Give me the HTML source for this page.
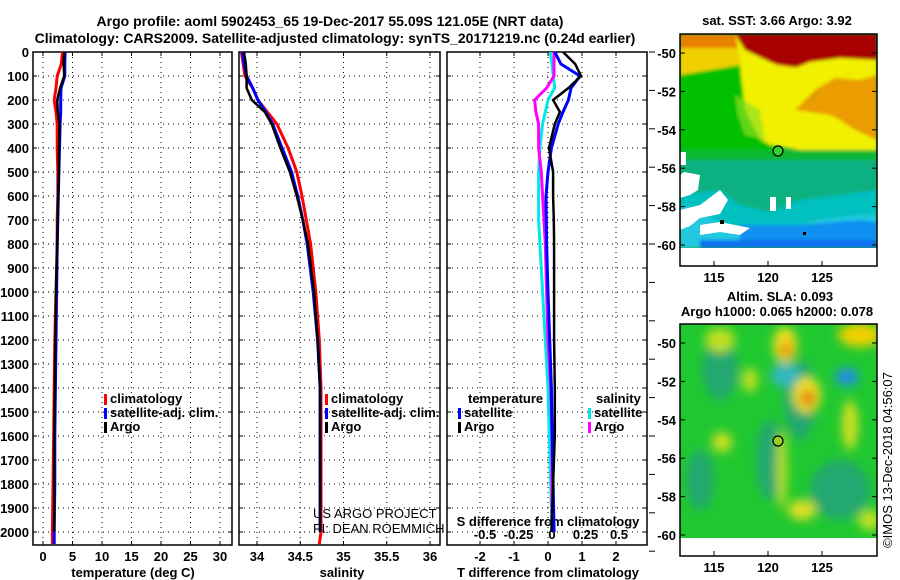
<!DOCTYPE html>
<html><head><meta charset="utf-8">
<style>
html,body{margin:0;padding:0;background:#fff;}
svg{display:block;font-family:"Liberation Sans",sans-serif;}
.t{font-weight:bold;font-size:13px;}
.tb{font-weight:bold;font-size:14px;}
.grid{stroke:#000;stroke-width:1;stroke-dasharray:1,4;}
</style></head>
<body>
<svg id="fig" width="900" height="580" viewBox="0 0 900 580">
<defs>
<filter id="blur4" x="-10%" y="-10%" width="120%" height="120%"><feGaussianBlur stdDeviation="5"/></filter>
<filter id="blur2"><feGaussianBlur stdDeviation="1.5"/></filter>
<clipPath id="clipTop"><rect x="680" y="34" width="197" height="214"/></clipPath>
<clipPath id="clipBot"><rect x="680" y="324" width="197" height="214"/></clipPath>
</defs>
<text class="tb" x="330" y="26" text-anchor="middle">Argo profile: aoml 5902453_65 19-Dec-2017 55.09S 121.05E (NRT data)</text>
<text class="tb" x="335" y="43" text-anchor="middle">Climatology: CARS2009. Satellite-adjusted climatology: synTS_20171219.nc (0.24d earlier)</text>
<g id="panels"></g>

<!-- top map -->
<g>
<text class="t" x="777" y="25" text-anchor="middle">sat. SST: 3.66 Argo: 3.92</text>
<g clip-path="url(#clipTop)">
<rect x="680" y="34" width="197" height="214" fill="#10b830"/>
<g filter="url(#blur2)">
<rect x="680" y="34" width="197" height="50" fill="#f0d000"/>
<rect x="680" y="34" width="197" height="14" fill="#e88000"/>
<polygon points="735,34 877,34 877,70 850,72 830,80 810,100 795,110 790,75 760,72 740,60" fill="#f0f000"/>
<polygon points="735,34 877,34 877,60 840,58 810,62 790,70 770,62 745,50" fill="#a80000"/>
<polygon points="740,60 800,68 812,100 830,78 860,70 877,68 877,160 840,160 800,150 770,145 745,130 738,100" fill="#f0f000"/>
<polygon points="795,110 815,90 835,78 860,80 877,75 877,140 855,130 840,120 830,115" fill="#e88000" opacity="0.75"/>
<polygon points="680,75 740,65 745,110 760,140 780,150 680,150" fill="#00c000"/>
<polygon points="735,95 760,110 765,140 745,135 738,115" fill="#90e020" opacity="0.7"/>
<rect x="680" y="150" width="197" height="45" fill="#10b830"/>
<polygon points="680,160 877,160 877,248 680,248" fill="#10b080"/>
<polygon points="680,195 720,190 740,205 770,212 800,200 840,195 877,190 877,248 680,248" fill="#00c0c0"/>
<polygon points="680,205 700,210 720,225 740,228 780,230 820,220 860,215 877,215 877,248 680,248" fill="#20c8e0"/>
<polygon points="740,225 800,225 860,220 877,222 877,248 740,248" fill="#1090f0"/>
<polygon points="700,240 877,240 877,248 700,248" fill="#1070f0"/>
</g>
<polygon points="680,152 686,152 686,165 680,165" fill="#fff"/>
<polygon points="684,172 700,175 698,190 690,195 680,198 680,175" fill="#fff"/>
<polygon points="680,210 700,205 720,190 728,200 720,214 700,218 690,226 680,230" fill="#fff"/>
<polygon points="700,225 720,222 750,228 740,235 720,232 700,235" fill="#fff"/>
<rect x="770" y="197" width="6" height="14" fill="#fff"/><rect x="786" y="197" width="5" height="12" fill="#fff"/>
<rect x="680" y="248" width="197" height="20" fill="#fff"/>
<rect x="720" y="220" width="4" height="4" fill="#000"/><rect x="803" y="232" width="3" height="3" fill="#000"/>
</g>
<rect x="680" y="34" width="197" height="232" fill="none" stroke="#000" stroke-width="1.5"/>
<circle cx="778" cy="151" r="5" fill="#30d030" stroke="#000" stroke-width="1.2"/>
<g id="topLat"></g>
</g>

<!-- bottom map -->
<g>
<text class="t" x="780" y="301" text-anchor="middle">Altim. SLA: 0.093</text>
<text class="t" x="777" y="316" text-anchor="middle">Argo h1000: 0.065 h2000: 0.078</text>
<g clip-path="url(#clipBot)">
<rect x="680" y="324" width="197" height="214" fill="#20c830"/>
<g filter="url(#blur4)">
<ellipse cx="720" cy="370" rx="18" ry="30" fill="#20a870"/>
<ellipse cx="800" cy="400" rx="16" ry="40" fill="#20a870"/>
<ellipse cx="770" cy="460" rx="14" ry="40" fill="#20a870"/>
<ellipse cx="840" cy="490" rx="30" ry="30" fill="#20a870"/>
<ellipse cx="700" cy="480" rx="14" ry="30" fill="#20a870"/>
<ellipse cx="785" cy="375" rx="14" ry="12" fill="#30b8c0"/>
<ellipse cx="847" cy="377" rx="12" ry="9" fill="#2090e0"/>
<ellipse cx="785" cy="345" rx="12" ry="18" fill="#f0e020"/>
<ellipse cx="786" cy="350" rx="6" ry="9" fill="#e89010"/>
<ellipse cx="807" cy="395" rx="14" ry="18" fill="#f0e020"/>
<ellipse cx="808" cy="398" rx="7" ry="8" fill="#e07010"/>
<ellipse cx="860" cy="335" rx="22" ry="12" fill="#f0d000"/>
<ellipse cx="720" cy="340" rx="15" ry="12" fill="#c0e020"/>
<ellipse cx="750" cy="380" rx="8" ry="12" fill="#c0e020"/>
<ellipse cx="722" cy="442" rx="10" ry="10" fill="#d0e020"/>
<ellipse cx="782" cy="470" rx="5" ry="40" fill="#c0e020"/>
<ellipse cx="802" cy="510" rx="14" ry="10" fill="#e0e020"/>
<ellipse cx="850" cy="425" rx="8" ry="25" fill="#d0e020"/>
<ellipse cx="870" cy="520" rx="12" ry="10" fill="#c0e020"/>
</g>
<rect x="680" y="538" width="197" height="20" fill="#fff"/>
</g>
<rect x="680" y="324" width="197" height="232" fill="none" stroke="#000" stroke-width="1.5"/>
<circle cx="778" cy="441" r="5" fill="#90d020" stroke="#000" stroke-width="1.2"/>
<g id="botLat"></g>
<text x="892" y="460" font-size="13" text-anchor="middle" transform="rotate(-90 892 460)">©IMOS 13-Dec-2018 04:56:07</text>
</g>
</svg>
<script>
// ---- data ----
const depths = [0,50,100,150,200,250,300,400,500,600,700,800,1000,1200,1400,1600,1800,2000,2050];
const tempClim = [3.3,3.1,2.4,2.2,1.9,2.2,2.4,2.4,2.5,2.5,2.4,2.4,2.2,2.0,1.9,1.8,1.7,1.6,1.6];
const tempSat = [3.75,3.7,3.7,3.05,3.0,3.0,2.9,2.8,2.7,2.6,2.5,2.4,2.3,2.2,2.1,2.0,2.0,1.9,1.9];
const tempArgo = [3.6,3.5,3.6,2.9,2.4,2.5,2.8,2.7,2.7,2.6,2.5,2.4,2.2,2.1,2.0,1.9,1.9,1.9];
const salClim = [33.82,33.84,33.86,33.95,34.01,34.12,34.23,34.36,34.46,34.52,34.57,34.62,34.68,34.72,34.74,34.74,34.74,34.74,34.72];
const salSat = [33.83,33.85,33.88,33.95,34.01,34.1,34.18,34.29,34.40,34.47,34.53,34.58,34.65,34.70,34.73,34.73,34.73,34.73];
const salArgo = [33.85,33.87,33.88,33.88,33.94,34.09,34.17,34.27,34.38,34.46,34.53,34.59,34.66,34.7,34.73,34.73,34.73,34.73];
const tDiffSat = [0.2,0.38,0.94,0.68,0.6,0.44,0.3,0.1,0.0,-0.06,-0.05,-0.04,0.0,0.05,0.1,0.12,0.15,0.18];
const tDiffArgo = [0.44,0.8,0.97,0.6,0.15,0.35,0.2,0.03,0.15,0.15,0.17,0.18,0.18,0.18,0.2,0.2,0.15,0.1];
const sDiffSat = [-0.015,0.0,0.01,0.02,-0.03,-0.05,-0.07,-0.09,-0.1,-0.1,-0.1,-0.09,-0.07,-0.05,-0.03,-0.02,-0.01,0.0];
const sDiffArgo = [0.015,0.015,0.015,-0.04,-0.13,-0.12,-0.1,-0.1,-0.08,-0.07,-0.06,-0.05,-0.04,-0.03,-0.01,0.0,0.0,0.0];
const depthTicks = [0,100,200,300,400,500,600,700,800,900,1000,1100,1200,1300,1400,1500,1600,1700,1800,1900,2000];
const tempTicks = [0,5,10,15,20,25,30];
const salTicks = [34,34.5,35,35.5,36];
const salTickLabels = ["34","34.5","35","35.5","36"];
const tdTicks = [-2,-1,0,1,2];
const sdTicks = [-0.5,-0.25,0,0.25,0.5];
const sdTickLabels = ["-0.5","-0.25","0","0.25","0.5"];
const latTicks = [-50,-52,-54,-56,-58,-60];
const lonTicks = [115,120,125];

const NS='http://www.w3.org/2000/svg';
const svg=document.getElementById('fig');
const panels=document.getElementById('panels');
function mk(tag,attrs,parent){const e=document.createElementNS(NS,tag);for(const k in attrs)e.setAttribute(k,attrs[k]);(parent||panels).appendChild(e);return e;}
const yD=d=>52+0.24*d;
const PT={x0:33,x1:232}, PS={x0:239,x1:440}, PD={x0:447,x1:647};
const yTop=52, yBot=545;
const xT=t=>43+5.9*t;
const xS=s=>257+86.5*(s-34);
const xTD=v=>548+34*v;
const xSD=v=>552+134*v;

function frame(p,name){
  const r=mk('rect',{x:p.x0,y:yTop,width:p.x1-p.x0,height:yBot-yTop,fill:'none',stroke:'#000','stroke-width':1.5});
  
  
  depthTicks.forEach(d=>{
    const g=mk('line',{x1:p.x0,x2:p.x1,y1:yD(d),y2:yD(d),class:'grid'});
    
    
    mk('line',{x1:p.x0,x2:p.x0+4,y1:yD(d),y2:yD(d),stroke:'#000'});
    mk('line',{x1:p.x1-4,x2:p.x1,y1:yD(d),y2:yD(d),stroke:'#000'});
  });
}
function xticks(p,ticks,labels,fx,name,ty){
  ticks.forEach((v,i)=>{
    const x=fx(v);
    const g=mk('line',{x1:x,x2:x,y1:yTop,y2:yBot,class:'grid'});
    
    
    mk('line',{x1:x,x2:x,y1:yBot-4,y2:yBot,stroke:'#000'});
    mk('line',{x1:x,x2:x,y1:yTop,y2:yTop+4,stroke:'#000'});
    const t=mk('text',{x:x,y:ty,'text-anchor':'middle',class:'t'});
    t.textContent=labels[i];
    
    
  });
}
function line(xs,vals,fx,color,name,w){
  const pts=vals.map((v,i)=>fx(v).toFixed(1)+','+yD(depths[i]).toFixed(1)).join(' ');
  const l=mk('polyline',{points:pts,fill:'none',stroke:color,'stroke-width':w||3,'stroke-linejoin':'miter'});
  
  
}
function label(x,y,txt,name,anchor,cls,size){
  const t=mk('text',{x:x,y:y,'text-anchor':anchor||'start'});
  if(cls)t.setAttribute('class',cls);
  if(size)t.setAttribute('font-size',size);
  t.textContent=txt;
  
  
  return t;
}
function legendEntry(x,y,color,txt,name){
  const r=mk('rect',{x:x,y:y-9,width:3,height:11,fill:color});
  
  
  label(x+6,y,txt,name,'start','t');
}

// Panel 1: temperature
frame(PT,'temperature-panel');
xticks(PT,tempTicks,tempTicks.map(String),xT,'temperature-x',561);
depthTicks.forEach(d=>label(29,yD(d)+5,String(d),'depth-tick-label','end','t'));
line(depths,tempClim,xT,'#f00','temperature-climatology-line');
line(depths,tempSat,xT,'#00f','temperature-satellite-line');
line(depths,tempArgo,xT,'#000','temperature-argo-line',2.5);
label(133,577,'temperature (deg C)','temperature-x-axis-title','middle','t');
legendEntry(104,403,'#f00','climatology','legend-climatology');
legendEntry(104,417,'#00f','satellite-adj. clim.','legend-satellite-adj');
legendEntry(104,431,'#000','Argo','legend-argo');

// Panel 2: salinity
frame(PS,'salinity-panel');
xticks(PS,salTicks,salTickLabels,xS,'salinity-x',561);
line(depths,salClim,xS,'#f00','salinity-climatology-line');
line(depths,salSat,xS,'#00f','salinity-satellite-line');
line(depths,salArgo,xS,'#000','salinity-argo-line',2.5);
label(342,577,'salinity','salinity-x-axis-title','middle','t');
legendEntry(325,403,'#f00','climatology','legend-sal-climatology');
legendEntry(325,417,'#00f','satellite-adj. clim.','legend-sal-satellite-adj');
legendEntry(325,431,'#000','Argo','legend-sal-argo');
label(313,518,'US ARGO PROJECT','us-argo-credit','start',null,13);
label(313,533,'PI: DEAN ROEMMICH','pi-credit','start',null,13);

// Panel 3: differences
frame(PD,'difference-panel');
xticks(PD,tdTicks,tdTicks.map(String),xTD,'t-diff-x',561);
[0,1,2,3,4,5,6,7,8,9,10,11,12,13].forEach(i=>mk('line',{x1:PD.x1+2,x2:PD.x1+8,y1:52+38.4*i,y2:52+38.4*i,stroke:'#000'}));
sdTicks.forEach((v,i)=>label(xSD(v),539,sdTickLabels[i],'s-diff-tick-label','middle','t'));
label(548,526,'S difference from climatology','s-diff-axis-title','middle','t');
line(depths,sDiffSat,xSD,'#00e8e8','s-diff-satellite-line');
line(depths,sDiffArgo,xSD,'#f0f','s-diff-argo-line');
line(depths,tDiffSat,xTD,'#00f','t-diff-satellite-line');
line(depths,tDiffArgo,xTD,'#000','t-diff-argo-line',2.5);
label(548,577,'T difference from climatology','t-diff-x-axis-title','middle','t');
label(468,403,'temperature','legend-temperature-heading','start','t');
legendEntry(458,417,'#00f','satellite','legend-t-satellite');
legendEntry(458,431,'#000','Argo','legend-t-argo');
label(596,403,'salinity','legend-salinity-heading','start','t');
legendEntry(588,417,'#00e8e8','satellite','legend-s-satellite');
legendEntry(588,431,'#f0f','Argo','legend-s-argo');

// Map axes
function mapAxes(gid,y50,y60,bottom){
  const g=document.getElementById(gid);
  latTicks.forEach(l=>{
    const y=y50+(y60-y50)*(-50-l)/10;
    mk('line',{x1:680,x2:685,y1:y,y2:y,stroke:'#000'},g);
    mk('line',{x1:872,x2:877,y1:y,y2:y,stroke:'#000'},g);
    const t=mk('text',{x:676,y:y+5,'text-anchor':'end',class:'t'},g);
    t.textContent=String(l);
    
    
  });
  lonTicks.forEach(l=>{
    const x=714+(l-115)*10.8;
    mk('line',{x1:x,x2:x,y1:bottom-5,y2:bottom,stroke:'#000'},g);
    const t=mk('text',{x:x,y:bottom+16,'text-anchor':'middle',class:'t'},g);
    t.textContent=String(l);
    
    
  });
}
mapAxes('topLat',53,245,266);
mapAxes('botLat',343,535,556);
</script>
</body></html>
